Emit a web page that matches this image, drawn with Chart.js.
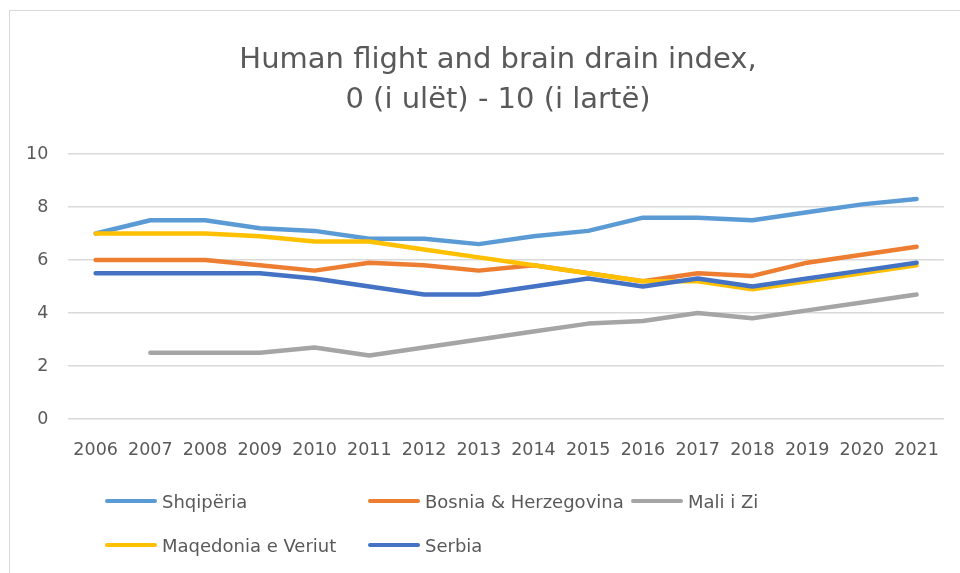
<!DOCTYPE html>
<html>
<head>
<meta charset="utf-8">
<script src="https://cdn.jsdelivr.net/npm/chart.js@4/dist/chart.umd.min.js"></script>
<style>
    html, body { margin: 0; padding: 0; background: #ffffff; }
    #wrap { position: relative; width: 960px; height: 573px; overflow: hidden; }
    #frame {
        position: absolute; left: 9px; top: 10px; width: 1000px; height: 600px;
        border-left: 1.5px solid #d9d9d9; border-top: 1.5px solid #d9d9d9;
    }
    canvas { position: absolute; left: 0; top: 0; }
    #legend {
        position: absolute; left: 105px; top: 489px;
        display: grid; grid-template-columns: 263px 263px 263px; grid-auto-rows: 44px;
        font-family: "DejaVu Sans", sans-serif; font-size: 18px; color: #595959;
    }
    .item { display: flex; align-items: center; height: 24px; white-space: nowrap; }
    .swatch { width: 52px; height: 4.5px; border-radius: 3px; margin-right: 5px; }
</style>
</head>
<body>
<div id="wrap">
    <div id="frame"></div>
    <canvas id="BrainDrainChart" width="960" height="573"></canvas>
    <div id="legend"></div>
</div>
<script>

var years = ["2006", "2007", "2008", "2009", "2010", "2011", "2012", "2013",
             "2014", "2015", "2016", "2017", "2018", "2019", "2020", "2021"];

var shqiperia  = [7.0, 7.5, 7.5, 7.2, 7.1, 6.8, 6.8, 6.6, 6.9, 7.1, 7.6, 7.6, 7.5, 7.8, 8.1, 8.3];
var bosnia     = [6.0, 6.0, 6.0, 5.8, 5.6, 5.9, 5.8, 5.6, 5.8, 5.5, 5.2, 5.5, 5.4, 5.9, 6.2, 6.5];
var maliIZi    = [null, 2.5, 2.5, 2.5, 2.7, 2.4, 2.7, 3.0, 3.3, 3.6, 3.7, 4.0, 3.8, 4.1, 4.4, 4.7];
var maqedonia  = [7.0, 7.0, 7.0, 6.9, 6.7, 6.7, 6.4, 6.1, 5.8, 5.5, 5.2, 5.2, 4.9, 5.2, 5.5, 5.8];
var serbia     = [5.5, 5.5, 5.5, 5.5, 5.3, 5.0, 4.7, 4.7, 5.0, 5.3, 5.0, 5.3, 5.0, 5.3, 5.6, 5.9];

var seriesNames  = ["Shqipëria", "Bosnia & Herzegovina", "Mali i Zi", "Maqedonia e Veriut", "Serbia"];
var seriesValues = [shqiperia, bosnia, maliIZi, maqedonia, serbia];
var seriesColors = ["#5b9bd5", "#ed7d31", "#a5a5a5", "#ffc000", "#4472c4"];

var titleLines = ["Human flight and brain drain index,", "0 (i ulët) - 10 (i lartë)"];

var textColor = "#595959";
var gridColor = "#d9d9d9";
var fontName = "'DejaVu Sans', sans-serif";


// later series are painted over earlier ones, like in the spreadsheet
var datasets = [];
for (var i = 0; i < seriesNames.length; ++i) {
    datasets.push({
        label: seriesNames[i],
        data: seriesValues[i],
        borderColor: seriesColors[i],
        backgroundColor: seriesColors[i],
        borderWidth: 4.5,
        borderCapStyle: "round",
        borderJoinStyle: "round",
        pointRadius: 0,
        pointHoverRadius: 0,
        tension: 0,
        fill: false,
        order: seriesNames.length - i
    });
}

// centre the title over the frame rather than over the padded canvas
var titleShift = {
    id: "titleShift",
    afterLayout: function (chart) {
        chart.titleBlock.left += 34;
    }
};

new Chart(document.getElementById("BrainDrainChart"), {
    type: "line",
    data: {
        labels: years,
        datasets: datasets
    },
    plugins: [titleShift],
    options: {
        responsive: false,
        animation: false,
        layout: {
            padding: {top: 40, left: 6, right: 4, bottom: 91}
        },
        scales: {
            x: {
                offset: true,
                grid: {display: false, drawTicks: false},
                border: {display: false},
                ticks: {
                    color: textColor,
                    padding: 21,
                    maxRotation: 0,
                    autoSkip: false,
                    font: {family: fontName, size: 17.5}
                }
            },
            y: {
                min: 0,
                max: 10,
                grid: {color: gridColor, lineWidth: 1.5, drawTicks: false},
                border: {display: false},
                ticks: {
                    stepSize: 2,
                    color: textColor,
                    padding: 20,
                    font: {family: fontName, size: 17.5}
                }
            }
        },
        plugins: {
            legend: {display: false},
            tooltip: {enabled: false},
            title: {
                display: true,
                text: titleLines,
                color: textColor,
                padding: {top: 0, bottom: 34},
                font: {family: fontName, size: 29, weight: "normal", lineHeight: 1.38}
            }
        }
    }
});

// legend in fixed columns, three per row
var legendBox = document.getElementById("legend");
for (var i = 0; i < seriesNames.length; ++i) {
    var item = document.createElement("div");
    item.className = "item";
    var swatch = document.createElement("span");
    swatch.className = "swatch";
    swatch.style.background = seriesColors[i];
    item.appendChild(swatch);
    item.appendChild(document.createTextNode(seriesNames[i]));
    legendBox.appendChild(item);
}
</script>
</body>
</html>
